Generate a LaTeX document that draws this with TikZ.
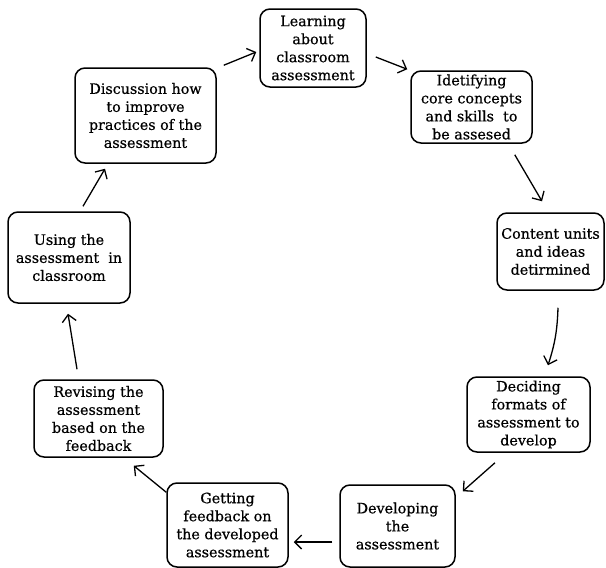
\documentclass[tikz,border=0pt]{standalone}
\usepackage{fontspec}
\setmainfont{DejaVu Serif}[FakeBold=0.6]
\usetikzlibrary{arrows.meta}
\begin{document}
\begin{tikzpicture}[x=1pt,y=-1pt,
  stepbox/.style={draw, line width=1.5pt, rounded corners=10pt, align=center, inner sep=0pt,
    font=\fontsize{14.3}{18}\selectfont},
  arr/.style={line width=1.3pt, -{Straight Barb[length=7pt,width=14pt,line width=1.3pt]}}]
\useasboundingbox (0,0) rectangle (606,568);
\node[stepbox, minimum width=106pt, minimum height=78pt] (b1) at (313,48) {Learning\\about\\classroom\\assessment};
\node[stepbox, minimum width=121pt, minimum height=72pt] (b2) at (471.5,107) {Idetifying\\core concepts\\and skills\ \ to\\be assesed};
\node[stepbox, minimum width=107pt, minimum height=77pt] (b3) at (550.5,251.5) {Content units\\and ideas\\detirmined};
\node[stepbox, minimum width=123pt, minimum height=75pt] (b4) at (528.5,414.5) {Deciding\\formats of\\assessment to\\develop};
\node[stepbox, minimum width=115pt, minimum height=82pt] (b5) at (397.5,526) {Developing\\the\\assessment};
\node[stepbox, minimum width=121pt, minimum height=84pt] (b6) at (227.5,525) {Getting\\feedback on\\the developed\\assessment};
\node[stepbox, minimum width=129pt, minimum height=77pt] (b7) at (98.5,418.5) {Revising the\\assessment\\based on the\\feedback};
\node[stepbox, minimum width=122pt, minimum height=91pt] (b8) at (69,257.5) {Using the\\assessment\ \ in\\classroom};
\node[stepbox, minimum width=141pt, minimum height=95pt] (b9) at (145.5,115.5) {Discussion how\\to improve\\practices of the\\assessment};
\draw[arr] ([shift={(7,-2)}]b9.north east) -- ([shift={(-3,4)}]b1.west);
\draw[arr] ([shift={(9,9)}]b1.east) -- ([shift={(-3,-1)}]b2.north west);
\draw[arr] ([shift={(-18,11)}]b2.south east) -- ([shift={(-8.5,-11)}]b3.north);
\draw[arr] ([shift={(7.5,17)}]b3.south) to[bend left=8] ([shift={(19.5,-11)}]b4.north);
\draw[arr] ([shift={(-33.5,10)}]b4.south) -- ([shift={(7,7)}]b5.north east);
\draw[arr] ([shift={(-7,16)}]b5.west) -- ([shift={(5,17)}]b6.east);
\draw[arr] ([shift={(0,10)}]b6.north west) -- ([shift={(-30,8)}]b7.south east);
\draw[arr] ([shift={(-21.5,-10)}]b7.north) -- ([shift={(-1,10)}]b8.south);
\draw[arr] ([shift={(14,-5)}]b8.north) -- ([shift={(-40.5,5)}]b9.south);
\end{tikzpicture}
\end{document}
